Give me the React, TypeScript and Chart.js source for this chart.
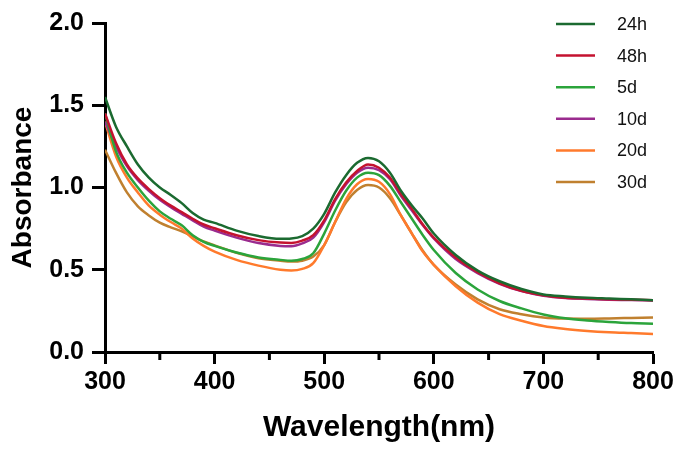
import React, { useEffect, useRef } from "react";
import { Chart, registerables } from "chart.js";

Chart.register(...registerables);

const wavelengths = [300, 310, 320, 330, 340, 350, 360, 370, 380, 390, 400, 420, 440, 460, 470, 480, 490, 500, 510, 520, 530, 540, 550, 560, 570, 580, 590, 600, 620, 640, 660, 680, 700, 720, 740, 760, 780, 800];

const series24h = [1.55, 1.37, 1.25, 1.14, 1.06, 1.0, 0.955, 0.905, 0.845, 0.805, 0.785, 0.738, 0.705, 0.688, 0.69, 0.705, 0.75, 0.84, 0.97, 1.075, 1.15, 1.18, 1.16, 1.09, 0.98, 0.89, 0.81, 0.72, 0.59, 0.495, 0.43, 0.383, 0.35, 0.338, 0.33, 0.325, 0.32, 0.315];
const series48h = [1.45, 1.27, 1.14, 1.055, 0.99, 0.935, 0.89, 0.85, 0.81, 0.775, 0.752, 0.71, 0.68, 0.665, 0.663, 0.677, 0.71, 0.8, 0.93, 1.03, 1.1, 1.14, 1.12, 1.06, 0.96, 0.87, 0.775, 0.695, 0.575, 0.485, 0.418, 0.372, 0.345, 0.33, 0.325, 0.32, 0.318, 0.315];
const series5d = [1.45, 1.22, 1.09, 1.0, 0.92, 0.855, 0.81, 0.77, 0.71, 0.67, 0.645, 0.605, 0.575, 0.56, 0.555, 0.565, 0.6, 0.72, 0.86, 0.98, 1.06, 1.09, 1.075, 1.01, 0.91, 0.81, 0.71, 0.62, 0.48, 0.38, 0.31, 0.265, 0.228, 0.205, 0.192, 0.183, 0.176, 0.172];
const series10d = [1.4, 1.25, 1.13, 1.045, 0.98, 0.925, 0.88, 0.84, 0.8, 0.762, 0.738, 0.695, 0.662, 0.645, 0.643, 0.66, 0.695, 0.79, 0.92, 1.02, 1.09, 1.12, 1.105, 1.05, 0.95, 0.86, 0.77, 0.69, 0.565, 0.48, 0.415, 0.37, 0.342, 0.328, 0.322, 0.318, 0.316, 0.313];
const series20d = [1.4, 1.19, 1.06, 0.97, 0.89, 0.835, 0.79, 0.75, 0.69, 0.645, 0.61, 0.56, 0.525, 0.5, 0.495, 0.505, 0.54, 0.65, 0.79, 0.93, 1.02, 1.052, 1.035, 0.96, 0.83, 0.72, 0.61, 0.53, 0.4, 0.3, 0.23, 0.19, 0.158, 0.14, 0.128, 0.12, 0.115, 0.11];
const series30d = [1.23, 1.09, 0.97, 0.885, 0.83, 0.786, 0.758, 0.733, 0.703, 0.672, 0.648, 0.603, 0.57, 0.555, 0.55, 0.555, 0.58, 0.65, 0.79, 0.91, 0.985, 1.015, 1.0, 0.935, 0.83, 0.72, 0.615, 0.53, 0.41, 0.32, 0.26, 0.23, 0.21, 0.203, 0.202, 0.204, 0.207, 0.21];

const seriesLabels = ["24h", "48h", "5d", "10d", "20d", "30d"];
const seriesValues = [series24h, series48h, series5d, series10d, series20d, series30d];
const seriesColors = ["#1b6a30", "#c4122f", "#2ba43b", "#9a2b8e", "#ff7a2c", "#c0802f"];

const xMajorTicks = [300, 400, 500, 600, 700, 800];
const xMinorTicks = [350, 450, 550, 650, 750];
const yTicks = [0, 0.5, 1.0, 1.5, 2.0];

const FONT = "'Liberation Sans', Arial, Helvetica, sans-serif";

const overlayPlugin = {
  id: "overlay",
  afterDraw(chart: any) {
    const ctx = chart.ctx;
    const xs = chart.scales.x;
    const bottom = chart.chartArea.bottom;
    ctx.save();
    ctx.strokeStyle = "#000";
    ctx.lineWidth = 3;
    xMinorTicks.forEach((v) => {
      const px = xs.getPixelForValue(v);
      ctx.beginPath();
      ctx.moveTo(px, bottom);
      ctx.lineTo(px, bottom + 8);
      ctx.stroke();
    });
    // legend
    ctx.font = `18px ${FONT}`;
    ctx.textBaseline = "middle";
    ctx.textAlign = "left";
    chart.data.datasets.forEach((ds: any, i: number) => {
      const y = 24 + i * 31.6;
      ctx.strokeStyle = ds.borderColor;
      ctx.lineWidth = 2.5;
      ctx.beginPath();
      ctx.moveTo(556, y);
      ctx.lineTo(595, y);
      ctx.stroke();
      ctx.fillStyle = "#111";
      ctx.fillText(ds.label, 617, y + 1);
    });
    ctx.restore();
  },
};

export default function App() {
  const ref = useRef<HTMLCanvasElement | null>(null);
  useEffect(() => {
    document.body.style.margin = "0";
    const canvas = ref.current;
    if (!canvas) return;
    const chart = new Chart(canvas, {
      type: "line",
      data: {
        datasets: seriesLabels.map((label, i) => ({
          label,
          data: wavelengths.map((w, j) => ({ x: w, y: seriesValues[i][j] })),
          borderColor: seriesColors[i],
          backgroundColor: seriesColors[i],
          borderWidth: 2.5,
          pointRadius: 0,
          cubicInterpolationMode: "monotone" as const,
          fill: false,
        })),
      },
      options: {
        animation: false,
        responsive: false,
        layout: { padding: { left: 0, right: 30, top: 16, bottom: 0 } },
        plugins: { legend: { display: false }, tooltip: { enabled: false } },
        scales: {
          x: {
            type: "linear",
            min: 300,
            max: 800,
            afterBuildTicks: (scale: any) => {
              scale.ticks = xMajorTicks.map((v) => ({ value: v }));
            },
            afterFit: (scale: any) => {
              scale.height = 98;
            },
            ticks: {
              color: "#000",
              font: { family: FONT, size: 25, weight: "bold" },
              padding: 3,
              maxRotation: 0,
              autoSkip: false,
            },
            grid: { drawOnChartArea: false, drawTicks: true, tickLength: 12, tickWidth: 3, tickColor: "#000" },
            border: { display: true, color: "#000", width: 3 },
            title: {
              display: true,
              text: "Wavelength(nm)",
              color: "#000",
              font: { family: FONT, size: 30, weight: "bold" },
              padding: { top: 0, bottom: 4 },
            },
          },
          y: {
            type: "linear",
            min: 0,
            max: 2,
            afterBuildTicks: (scale: any) => {
              scale.ticks = yTicks.map((v) => ({ value: v }));
            },
            afterFit: (scale: any) => {
              scale.width = 105;
            },
            ticks: {
              color: "#000",
              font: { family: FONT, size: 25, weight: "bold" },
              padding: 8,
              callback: (v: any) => Number(v).toFixed(1),
            },
            grid: { drawOnChartArea: false, drawTicks: true, tickLength: 13, tickWidth: 3, tickColor: "#000" },
            border: { display: true, color: "#000", width: 3 },
            title: {
              display: true,
              text: "Absorbance",
              color: "#000",
              font: { family: FONT, size: 28, weight: "bold" },
              padding: { top: 6, bottom: 0 },
            },
          },
        },
      },
      plugins: [overlayPlugin],
    });
    return () => chart.destroy();
  }, []);
  return (
    <div style={{ width: 683, height: 450 }}>
      <canvas ref={ref} width={683} height={450} />
    </div>
  );
}
